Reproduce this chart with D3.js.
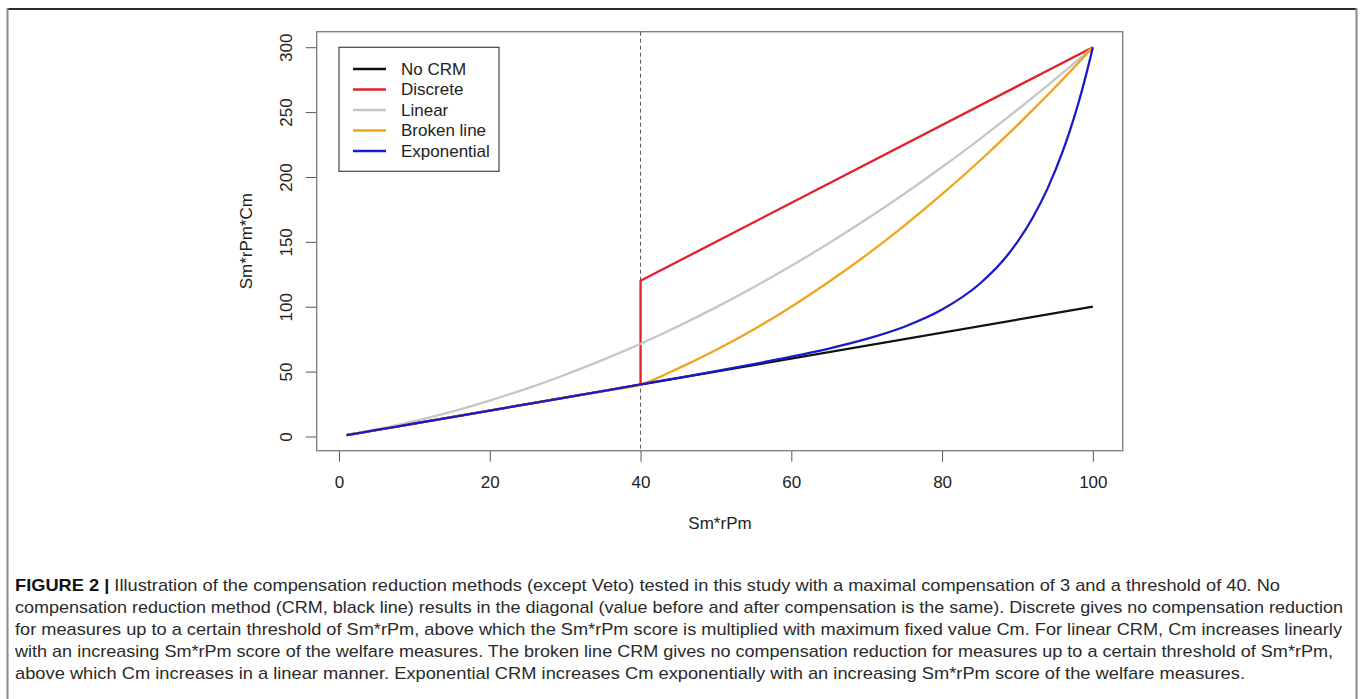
<head>
    <meta charset="utf-8">
    <script src="https://d3js.org/d3.v7.min.js"></script>
    <style>
        body {
            margin: 0;
            background: #fff;
            font-family: "Liberation Sans", Arial, sans-serif;
        }
    </style>
</head>

<body>

<svg width="1360" height="699"></svg>

<script>

    // values (x = Sm*rPm, y = Sm*rPm*Cm)
    var noCrmX = [1, 100];
    var noCrmY = [1, 100];

    var discreteX = [1, 40, 40, 100];
    var discreteY = [1, 40, 120, 300];

    var gridX = [1, 5, 10, 15, 20, 25, 30, 35, 40, 45, 50, 55, 60, 65, 70, 75, 80, 85, 88, 90, 92, 94, 96, 97, 98, 99, 100];
    var linearY = [1, 5.4, 11.8, 19.2, 27.7, 37.1, 47.6, 59.0, 71.5, 85.0, 99.5, 115.0, 131.5, 149.0, 167.6, 187.1, 207.7, 229.2, 242.7, 251.8, 261.1, 270.6, 280.2, 285.1, 290.0, 295.0, 300];
    var brokenY = [1, 5, 10, 15, 20, 25, 30, 35, 40, 52.5, 66.7, 82.5, 100, 119.2, 140, 162.5, 186.7, 212.5, 228.8, 240, 251.5, 263.2, 275.2, 281.3, 287.5, 293.7, 300];
    var exponentialY = [1, 5, 10, 15, 20, 25, 30, 35, 40.1, 45.2, 50.4, 55.8, 61.5, 67.8, 75.2, 84.6, 97.8, 117.7, 135.0, 150.0, 168.4, 191.2, 219.7, 236.5, 255.3, 276.4, 300];

    var threshold = 40;
    var xTicks = [0, 20, 40, 60, 80, 100];
    var yTicks = [0, 50, 100, 150, 200, 250, 300];

    var seriesNames = ["No CRM", "Discrete", "Linear", "Broken line", "Exponential"];
    var seriesColors = ["#111111", "#e0222b", "#c6c6c6", "#f0a41c", "#1a1ac8"];

    var captionLines = [
        "Illustration of the compensation reduction methods (except Veto) tested in this study with a maximal compensation of 3 and a threshold of 40. No",
        "compensation reduction method (CRM, black line) results in the diagonal (value before and after compensation is the same). Discrete gives no compensation reduction",
        "for measures up to a certain threshold of Sm*rPm, above which the Sm*rPm score is multiplied with maximum fixed value Cm. For linear CRM, Cm increases linearly",
        "with an increasing Sm*rPm score of the welfare measures. The broken line CRM gives no compensation reduction for measures up to a certain threshold of Sm*rPm,",
        "above which Cm increases in a linear manner. Exponential CRM increases Cm exponentially with an increasing Sm*rPm score of the welfare measures."
    ];

    //
    // build series
    //

    function zip(xs, ys) { return xs.map((d, i) => [d, ys[i]]) }

    var series = [
        {name: seriesNames[0], pts: zip(noCrmX, noCrmY), curve: d3.curveLinear},
        {name: seriesNames[1], pts: zip(discreteX, discreteY), curve: d3.curveLinear},
        {name: seriesNames[2], pts: zip(gridX, linearY), curve: d3.curveMonotoneX},
        {name: seriesNames[3], pts: zip(gridX, brokenY), curve: d3.curveMonotoneX},
        {name: seriesNames[4], pts: zip(gridX, exponentialY), curve: d3.curveMonotoneX}
    ];

    var color = d3.scaleOrdinal().domain(seriesNames).range(seriesColors);

    var svg = d3.select("svg");

    // figure frame
    svg.append("line").attr("x1", 7).attr("x2", 1357).attr("y1", 9).attr("y2", 9)
        .attr("stroke", "#2b2b2b").attr("stroke-width", 2);
    svg.append("line").attr("x1", 7.5).attr("x2", 7.5).attr("y1", 8).attr("y2", 699)
        .attr("stroke", "#8a8a8a").attr("stroke-width", 2);
    svg.append("line").attr("x1", 1356.5).attr("x2", 1356.5).attr("y1", 8).attr("y2", 699)
        .attr("stroke", "#8a8a8a").attr("stroke-width", 2);

    //
    // scales (R style: 4% padding on each side)
    //

    var box = {left: 316.7, right: 1122.7, top: 31.7, bottom: 450.7};

    var xPad = (100 - 1) * 0.04, yPad = (300 - 1) * 0.04;

    var x = d3.scaleLinear()
        .domain([1 - xPad, 100 + xPad])
        .range([box.left, box.right]);

    var y = d3.scaleLinear()
        .domain([1 - yPad, 300 + yPad])
        .range([box.bottom, box.top]);

    var font = "'Liberation Sans', Arial, sans-serif";

    // x axis
    var xAxis = svg.append("g")
        .attr("transform", "translate(0," + box.bottom + ")")
        .call(d3.axisBottom(x).tickValues(xTicks).tickSize(11).tickPadding(14).tickSizeOuter(0));
    xAxis.select(".domain").remove();
    xAxis.selectAll("line").attr("stroke", "#555");
    xAxis.selectAll("text").attr("font-size", 17).attr("font-family", font).attr("fill", "#222");

    // y axis, labels parallel to the axis
    var yAxis = svg.append("g")
        .attr("transform", "translate(" + box.left + ",0)")
        .call(d3.axisLeft(y).tickValues(yTicks).tickSize(11).tickSizeOuter(0));
    yAxis.select(".domain").remove();
    yAxis.selectAll("line").attr("stroke", "#555");
    yAxis.selectAll("text")
        .attr("x", 0).attr("dy", null)
        .attr("transform", "translate(-25,0) rotate(-90)")
        .attr("text-anchor", "middle")
        .attr("font-size", 17).attr("font-family", font).attr("fill", "#222");

    // plot box
    svg.append("rect")
        .attr("x", box.left).attr("y", box.top)
        .attr("width", box.right - box.left).attr("height", box.bottom - box.top)
        .attr("fill", "none").attr("stroke", "#7a7a7a").attr("stroke-width", 1.3);

    // axis titles
    svg.append("text")
        .attr("x", 720).attr("y", 529)
        .attr("text-anchor", "middle")
        .attr("font-size", 17).attr("font-family", font).attr("fill", "#222")
        .text("Sm*rPm");

    svg.append("text")
        .attr("transform", "translate(252," + ((box.top + box.bottom) / 2) + ") rotate(-90)")
        .attr("text-anchor", "middle")
        .attr("font-size", 17).attr("font-family", font).attr("fill", "#222")
        .text("Sm*rPm*Cm");

    // threshold line
    svg.append("line")
        .attr("x1", x(threshold)).attr("x2", x(threshold))
        .attr("y1", box.top).attr("y2", box.bottom)
        .attr("stroke", "#555").attr("stroke-width", 1)
        .attr("stroke-dasharray", "4,3");

    //
    // lines
    //

    svg.selectAll(".series")
        .data(series)
        .enter().append("path")
        .attr("class", "series")
        .attr("fill", "none")
        .attr("stroke", d => color(d.name))
        .attr("stroke-width", 2.3)
        .attr("stroke-linejoin", "round")
        .attr("d", d => d3.line().curve(d.curve).x(p => x(p[0])).y(p => y(p[1]))(d.pts));

    //
    // legend
    //

    var legend = svg.append("g").attr("transform", "translate(339,47.3)");

    legend.append("rect")
        .attr("width", 160).attr("height", 124)
        .attr("fill", "#fff").attr("stroke", "#444").attr("stroke-width", 1.2);

    var rows = legend.selectAll(".row")
        .data(seriesNames)
        .enter().append("g")
        .attr("class", "row")
        .attr("transform", (d, i) => "translate(0," + (21.7 + i * 20.5) + ")");

    rows.append("line")
        .attr("x1", 14).attr("x2", 47)
        .attr("stroke", d => color(d)).attr("stroke-width", 2.3);

    rows.append("text")
        .attr("x", 62).attr("dy", "0.35em")
        .attr("font-size", 17).attr("font-family", font).attr("fill", "#222")
        .text(d => d);

    //
    // caption
    //

    var captionStart = 15;
    var captionEnds = [1280, 1343, 1342, 1333, 1245];

    var caption = svg.append("g")
        .attr("font-family", font)
        .attr("font-size", 17)
        .attr("fill", "#2a2a2a");

    captionLines.forEach(function(line, i) {
        var t = caption.append("text")
            .attr("x", captionStart)
            .attr("y", 591 + i * 22)
            .attr("textLength", captionEnds[i] - captionStart)
            .attr("lengthAdjust", "spacingAndGlyphs");
        if (i === 0) {
            t.append("tspan").attr("font-weight", "bold").attr("fill", "#111").text("FIGURE 2 | ");
        }
        t.append("tspan").text(line);
    });

</script>
</body>
